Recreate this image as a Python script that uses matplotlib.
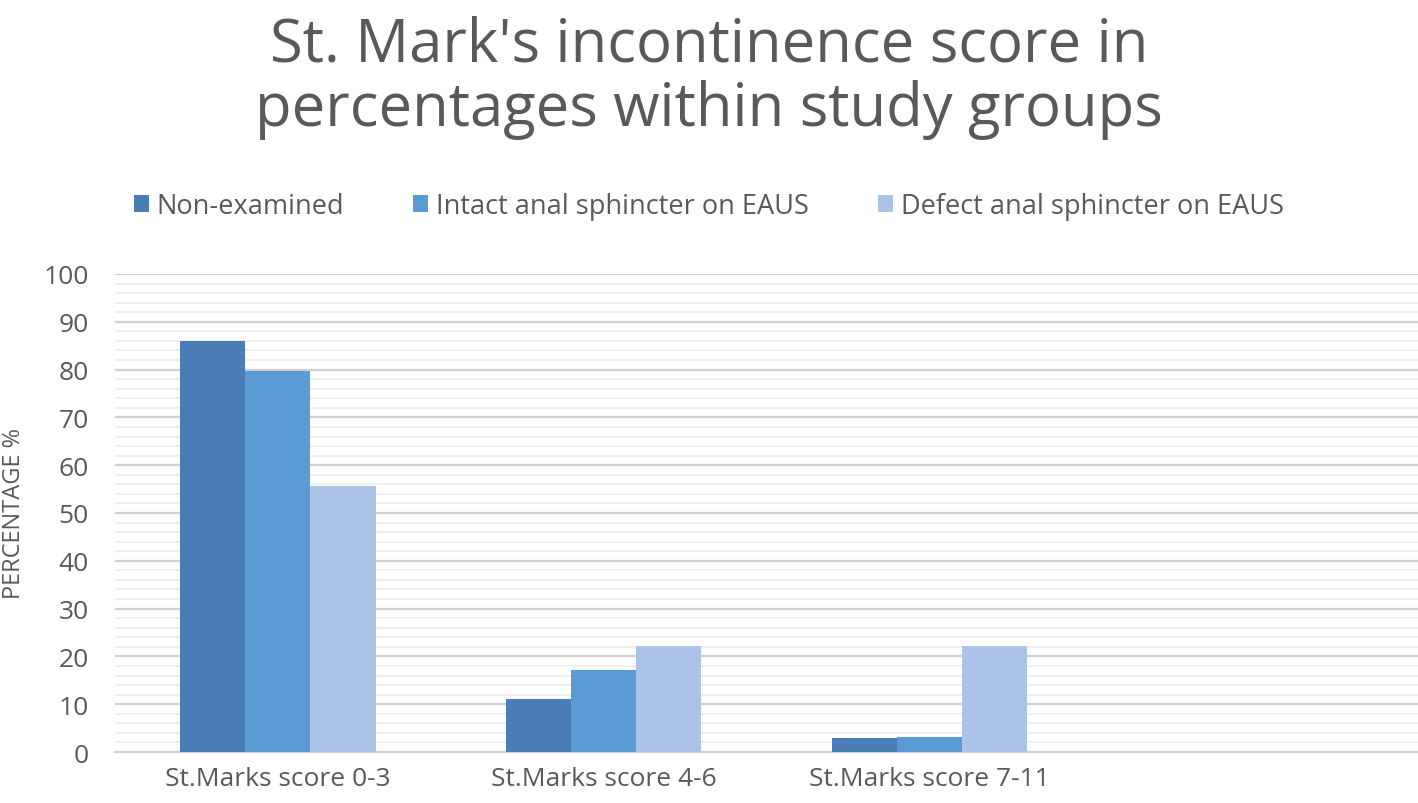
import matplotlib
matplotlib.use("Agg")
import matplotlib.pyplot as plt
import numpy as np
from matplotlib.ticker import MultipleLocator

categories = ["St.Marks score 0-3", "St.Marks score 4-6", "St.Marks score 7-11", ""]
series_names = ["Non-examined", "Intact anal sphincter on EAUS", "Defect anal sphincter on EAUS"]
non_examined = [86.0, 11.0, 2.9]
intact = [79.7, 17.2, 3.2]
defect = [55.6, 22.2, 22.2]
colors = ["#4A7DB5", "#5B9BD5", "#A9C4E6"]
yticks = [0, 10, 20, 30, 40, 50, 60, 70, 80, 90, 100]

plt.rcParams['font.family'] = ['Open Sans', 'DejaVu Sans']
fig = plt.figure(figsize=(14.18, 8.04), dpi=100)
ax = fig.add_axes([0.0811, 0.0634, 0.9189, 0.5946])

x = np.arange(len(categories))
w = 0.2
for i, (vals, c, name) in enumerate(zip([non_examined, intact, defect], colors, series_names)):
    ax.bar(x[:len(vals)] + (i - 1) * w, vals, width=w, color=c, label=name, zorder=3)

ax.set_xlim(-0.5, len(categories) - 0.5)
ax.set_ylim(0, 100)
ax.set_yticks(yticks)
ax.yaxis.set_minor_locator(MultipleLocator(2))
ax.grid(axis='y', which='major', color='#D0D0D0', linewidth=1.6, zorder=0)
ax.grid(axis='y', which='minor', color='#ECECEC', linewidth=1.2, zorder=0)
ax.set_xticks(x)
ax.set_xticklabels(categories)
for s in ['top', 'right', 'left']:
    ax.spines[s].set_visible(False)
ax.spines['bottom'].set_color('#D0D0D0')
ax.spines['bottom'].set_linewidth(1.6)
ax.tick_params(axis='both', which='both', length=0, colors='#595959')
ax.tick_params(axis='y', labelsize=19, pad=19)
ax.tick_params(axis='x', labelsize=19, pad=10)
ax.set_ylabel("PERCENTAGE %", color='#595959', fontsize=17)
ax.yaxis.set_label_coords(-0.0683, 0.5)

fig.text(0.5, 0.903, "St. Mark's incontinence score in\npercentages within study groups",
         ha='center', va='center', fontsize=43, color='#595959', linespacing=1.1)

leg = fig.legend(loc='center', bbox_to_anchor=(0.5, 0.7425), ncol=3, frameon=False,
                 fontsize=19.5, handlelength=0.55, handleheight=0.55, columnspacing=2.55,
                 handletextpad=0.3)
for t in leg.get_texts():
    t.set_color('#595959')

fig.savefig("out.png", dpi=100)
